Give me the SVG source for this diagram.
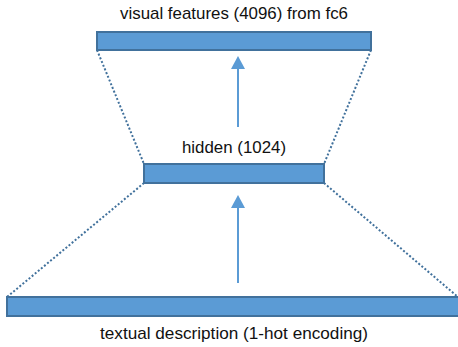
<svg xmlns="http://www.w3.org/2000/svg" width="458" height="347" viewBox="0 0 458 347">
<defs>
<style>
.bar{fill:#5B9BD5;stroke:#41719C;stroke-width:2}
.lbl{font-family:"Liberation Sans",Arial,sans-serif;font-size:17px;fill:#111;text-anchor:middle}
.dot{stroke:#41719C;stroke-width:2;stroke-dasharray:2 2;fill:none}
</style>
</defs>
<g id="connectors">
<line class="dot" x1="97" y1="50" x2="144" y2="164"/>
<line class="dot" x1="371" y1="50" x2="324" y2="164"/>
<line class="dot" x1="144" y1="183" x2="7" y2="297"/>
<line class="dot" x1="324" y1="183" x2="458" y2="297"/>
<line x1="238" y1="127" x2="238" y2="66" stroke="#5B9BD5" stroke-width="2"/>
<path d="M231,69 L238,56 L245,69 Z" fill="#5B9BD5"/>
<line x1="238" y1="283" x2="238" y2="205" stroke="#5B9BD5" stroke-width="2"/>
<path d="M231,208 L238,195 L245,208 Z" fill="#5B9BD5"/>
</g>
<g id="visual">
<rect class="bar" x="97" y="32" width="274" height="18"/>
<text class="lbl" x="234" y="19" textLength="228" lengthAdjust="spacingAndGlyphs">visual features (4096) from fc6</text>
</g>
<g id="hidden">
<rect class="bar" x="144" y="164" width="180" height="19"/>
<text class="lbl" x="234" y="153" textLength="104" lengthAdjust="spacingAndGlyphs">hidden (1024)</text>
</g>
<g id="textual">
<rect class="bar" x="7" y="297" width="460" height="19"/>
<text class="lbl" x="234" y="339" textLength="268" lengthAdjust="spacingAndGlyphs">textual description (1-hot encoding)</text>
</g>
</svg>
